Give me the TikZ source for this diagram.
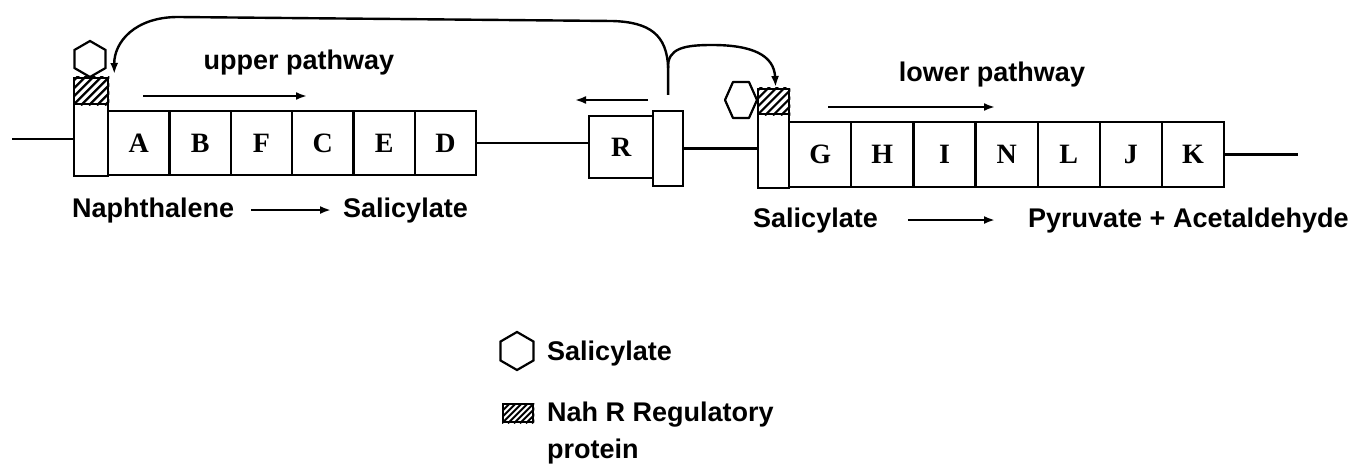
\documentclass[tikz,border=0pt]{standalone}
\usepackage{fontspec}
\setmainfont{Liberation Serif}
\newfontfamily\labfont{Liberation Sans}
\usetikzlibrary{shapes.geometric,arrows.meta,calc}
\begin{document}
\begin{tikzpicture}[x=1pt,y=-1pt,
  box/.style={draw,line width=2.3pt,inner sep=0pt,anchor=north west},
  gene/.style={box,minimum width=61.3pt,minimum height=64pt,font=\fontsize{28}{30}\selectfont\bfseries},
  lgene/.style={box,minimum width=62.1pt,minimum height=65pt,font=\fontsize{28}{30}\selectfont\bfseries},
  hex/.style={draw,line width=2.2pt,regular polygon,regular polygon sides=6,inner sep=0pt},
  lab/.style={inner sep=0pt,font=\labfont\bfseries\fontsize{27}{30}\selectfont},
  line/.style={line width=2.4pt},
  arr/.style={line width=2.4pt,-{Latex[length=11pt,width=8pt]}},
  hatchbox/.style={box}
]
\useasboundingbox[fill=white] (0,0) rectangle (1366,468);

% ---------- upper operon ----------
\node[box,minimum width=34pt,minimum height=72pt] (P1) at (73,103) {};
\node[hatchbox,minimum width=34pt,minimum height=26pt] (H1) at (73,77) {};
\node[hex,minimum size=36pt,shape border rotate=30] (S1) at (90,59) {};
\foreach \g [count=\i from 0] in {A,B,F,C,E,D}
  \node[gene] (g\g) at (107+61.33*\i,110) {\g};
\coordinate (L0) at (12,139);
\draw[line] (L0) -- (L0 -| P1.west);

% ---------- R ----------
\node[box,minimum width=64pt,minimum height=62pt,font=\fontsize{28}{30}\selectfont\bfseries] (R) at (588,115) {R};
\node[box,minimum width=30pt,minimum height=75pt] (PR) at (652,110) {};
\draw[line] (gD.east) -- (gD.east -| R.west);

% ---------- lower operon ----------
\node[box,minimum width=31pt,minimum height=74pt] (P2) at (757,113) {};
\node[hatchbox,minimum width=31pt,minimum height=25pt] (H2) at (757,88) {};
\coordinate (S2) at (741,100);
\draw[line width=2.2pt,line join=round] ($(S2)+(-16,0)$) -- ($(S2)+(-8,-18)$) -- ($(S2)+(8,-18)$)
  -- ($(S2)+(16,0)$) -- ($(S2)+(8,18)$) -- ($(S2)+(-8,18)$) -- cycle;
\foreach \g [count=\i from 0] in {G,H,I,N,L,J,K}
  \node[lgene] (l\g) at (788+62.14*\i,121) {\g};
\draw[line] (PR.east) -- (PR.east -| P2.west);
\coordinate (Rend) at (1298,154);
\draw[line] (lK.east) -- (lK.east -| Rend);

% hatching
\foreach \hb in {H1,H2}{
  \begin{scope}
    \clip (\hb.south west) rectangle (\hb.north east);
    \foreach \k in {-40,-32,...,40}
      \draw[line width=2.2pt] ($(\hb.south west)+(\k,0)$) -- ++(40,-40);
  \end{scope}
}

% ---------- pathway arrows ----------
\coordinate (ua1) at (143,96);
\coordinate (ua2) at (307,96);
\draw[arr] (ua1) -- (ua2);
\node[lab,anchor=base] (upl) at (299,70) {upper pathway};
\coordinate (la1) at (828,107);
\coordinate (la2) at (995,107);
\draw[arr] (la1) -- (la2);
\node[lab,anchor=base] (lol) at (992,82) {lower pathway};
\coordinate (ra1) at (648,100);
\coordinate (ra2) at (575,100);
\draw[arr] (ra1) -- (ra2);

% ---------- regulation arcs ----------
\coordinate (stem) at ($(PR.north)+(0,-15)$);
\coordinate (fork) at ($(stem)+(0,-27)$);
\draw[arr] (stem) -- (fork) .. controls (667,35) and (650,22) .. (612,21)
   -- (178,17) .. controls (135,17) and (114,42) .. ($(H1.north east)+(5,-3)$);
\draw[arr] (fork) .. controls (667,48) and (685,45) .. (712,45)
   .. controls (752,45) and (774,55) .. ($(H2.north)+(2,-1)$);

% ---------- reactions ----------
\node[lab,anchor=base west] (naph) at (72,217) {Naphthalene};
\node[lab,anchor=base west] (sal1) at (343,217) {Salicylate};
\draw[arr,shorten <=17pt,shorten >=12pt] (naph.east) -- (sal1.west);
\node[lab,anchor=base west] (sal2) at (753,227) {Salicylate};
\node[lab,anchor=base west] (pyr) at (1028,227) {Pyruvate + Acetaldehyde};
\draw[arr,shorten <=30pt,shorten >=33pt] (sal2.east) -- (pyr.west);

% ---------- legend ----------
\node[hex,minimum size=38pt,shape border rotate=30] (LS) at (517,351) {};
\node[lab,anchor=base west] (lsal) at (547,360) {Salicylate};
\node[hatchbox,minimum width=30pt,minimum height=18pt] (LH) at (502,403) {};
\begin{scope}
  \clip (LH.south west) rectangle (LH.north east);
  \foreach \k in {-30,-24,...,36}
    \draw[line width=2pt] ($(LH.south west)+(\k,0)$) -- ++(30,-30);
\end{scope}
\node[lab,anchor=base west] (nahr) at (547,421) {Nah R Regulatory};
\node[lab,anchor=base west] (prot) at (547,458) {protein};
\end{tikzpicture}
\end{document}
